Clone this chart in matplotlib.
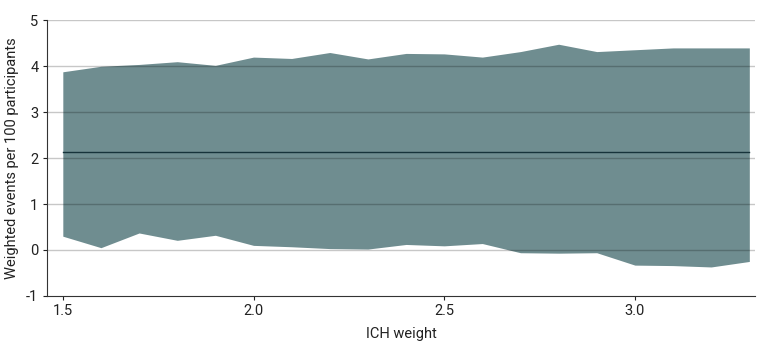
import numpy as np
import matplotlib.pyplot as plt

plt.rcParams['font.family'] = ['Roboto', 'DejaVu Sans']

# ICH weight and the band of weighted events per 100 participants
ich_weight = [1.5, 1.6, 1.7, 1.8, 1.9, 2.0, 2.1, 2.2, 2.3, 2.4,
              2.5, 2.6, 2.7, 2.8, 2.9, 3.0, 3.1, 3.2, 3.3]
upper = [3.88, 4.00, 4.04, 4.10, 4.02, 4.20, 4.17, 4.30, 4.16, 4.28,
         4.27, 4.20, 4.32, 4.48, 4.32, 4.36, 4.40, 4.40, 4.40]
lower = [0.30, 0.05, 0.37, 0.21, 0.32, 0.10, 0.07, 0.03, 0.02, 0.12,
         0.09, 0.14, -0.06, -0.07, -0.06, -0.33, -0.34, -0.37, -0.25]
center = 2.13

fig = plt.figure(figsize=(7.8, 3.51), dpi=100)
ax = fig.add_axes([0.06, 0.157, 0.908, 0.785])

ax.fill_between(ich_weight, lower, upper, color="#6f8d90", lw=0, zorder=1)
ax.plot([ich_weight[0], ich_weight[-1]], [center, center], color="#16333a", lw=1, zorder=3)

for y in range(0, 6):
    ax.axhline(y, color="black", alpha=0.22, lw=1, zorder=2)

ax.set_xlim(1.458, 3.315)
ax.set_ylim(-1, 5)
ax.set_xticks([1.5, 2.0, 2.5, 3.0])
ax.set_xticklabels(["1.5", "2.0", "2.5", "3.0"])
ax.set_yticks(range(-1, 6))
ax.set_yticklabels([str(v) for v in range(-1, 6)])
ax.tick_params(labelsize=10.5, length=3, width=0.8, colors="#222222", pad=3)

ax.spines['top'].set_visible(False)
ax.spines['right'].set_visible(False)
ax.spines['left'].set_color("#333333")
ax.spines['bottom'].set_color("#333333")

ax.set_xlabel("ICH weight", fontsize=10.5, color="#222222", labelpad=6)
ax.set_ylabel("Weighted events per 100 participants", fontsize=10.5, color="#222222", labelpad=5)

plt.savefig("out.png", dpi=100)
